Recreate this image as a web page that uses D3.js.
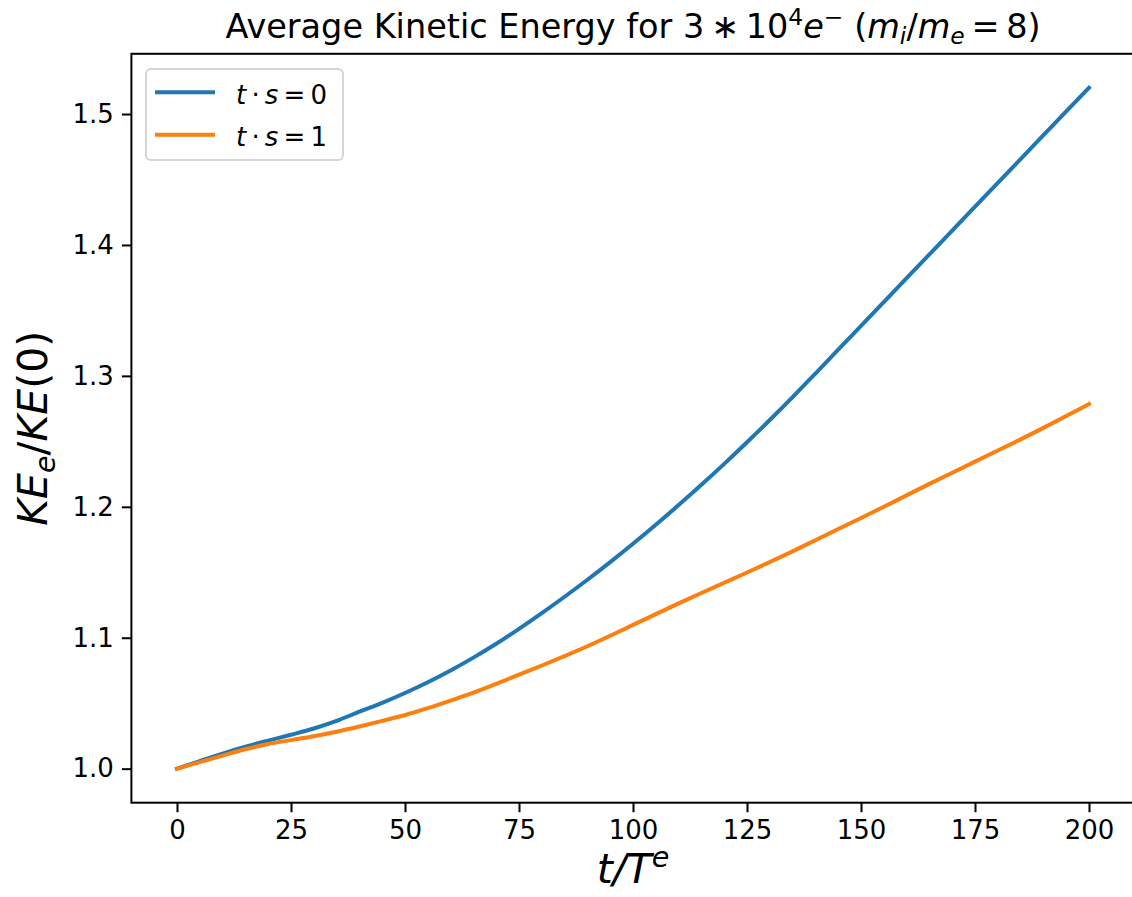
<!DOCTYPE html>
<html>
<head>
<meta charset="utf-8">
<script src="https://cdn.jsdelivr.net/npm/d3@7"></script>
<style>
  html, body { margin: 0; padding: 0; background: #fff; }
  svg { display: block; }
  text { font-family: "DejaVu Sans", sans-serif; fill: #000; }
</style>
</head>
<body>
<svg id="chart" width="1132" height="897"></svg>
<script>
// ---- data ----
const tValues = [0,5,10,15,20,25,30,35,40,45,50,55,60,65,70,75,80,85,90,95,100,
                 105,110,115,120,125,130,135,140,145,150,155,160,165,170,175,180,185,190,195,200];
const seriesTs0 = [1.000,1.0058,1.0115,1.0167,1.0214,1.0259,1.0307,1.0365,1.0435,1.0503,1.0578,1.066,1.075,1.0848,1.0954,1.1068,1.1188,1.1313,1.1443,1.1578,1.1718,
                   1.1863,1.2013,1.2168,1.2328,1.2493,1.2663,1.2838,1.3018,1.320,1.3382,1.3564,1.3746,1.3928,1.411,1.4292,1.4474,1.4656,1.4838,1.502,1.520];
const seriesTs1 = [1.000,1.005,1.010,1.0148,1.0188,1.0218,1.0248,1.0282,1.0322,1.0365,1.041,1.0462,1.052,1.058,1.0648,1.0718,1.0788,1.086,1.0935,1.1015,1.1098,
                   1.118,1.1262,1.1342,1.142,1.1498,1.1578,1.166,1.1745,1.183,1.1915,1.2,1.2088,1.2175,1.226,1.2345,1.243,1.2515,1.2603,1.2693,1.2785];
const seriesNames = ["t·s=0", "t·s=1"];
const seriesColors = ["#1f77b4", "#ff7f0e"];
const xTicks = [0,25,50,75,100,125,150,175,200];
const yTicks = [1.0,1.1,1.2,1.3,1.4,1.5];

// ---- layout ----
const svg = d3.select("#chart");
const pL = 131.4, pR = 1134.6, pT = 53.8, pB = 802.7;

const allY = seriesTs0.concat(seriesTs1);
const yMin = d3.min(allY), yMax = d3.max(allY);
const yPad = (yMax - yMin) * 0.05;
const xPad = (d3.max(tValues) - d3.min(tValues)) * 0.05;

const x = d3.scaleLinear().domain([d3.min(tValues) - xPad, d3.max(tValues) + xPad]).range([pL, pR]);
const y = d3.scaleLinear().domain([yMin - yPad, yMax + yPad]).range([pB, pT]);

const tickFont = 26;

// axes
const xAxis = d3.axisBottom(x).tickValues(xTicks).tickSize(9.5).tickPadding(8).tickFormat(d3.format("d"));
const yAxis = d3.axisLeft(y).tickValues(yTicks).tickSize(9.5).tickPadding(8).tickFormat(d3.format(".1f"));

const gx = svg.append("g").attr("transform", `translate(0,${pB})`).call(xAxis);
const gy = svg.append("g").attr("transform", `translate(${pL},0)`).call(yAxis);
[gx, gy].forEach(g => {
  g.select(".domain").remove();
  g.selectAll(".tick line").attr("stroke", "#000").attr("stroke-width", 2);
  g.selectAll(".tick text").attr("font-size", tickFont).attr("font-family", "DejaVu Sans").attr("fill", "#000");
});

// lines
const line = d3.line().x((d, i) => x(tValues[i])).y(d => y(d)).curve(d3.curveMonotoneX);
const plotG = svg.append("g");
[seriesTs0, seriesTs1].forEach((s, k) => {
  plotG.append("path").datum(s).attr("d", line)
    .attr("fill", "none").attr("stroke", seriesColors[k]).attr("stroke-width", 4)
    .attr("stroke-linejoin", "round").attr("stroke-linecap", "square");
});

// spines
svg.append("rect").attr("x", pL).attr("y", pT).attr("width", pR - pL).attr("height", pB - pT)
  .attr("fill", "none").attr("stroke", "#000").attr("stroke-width", 2);

// rich text helper
function rich(sel, segs, size) {
  let cur = 0;
  segs.forEach(s => {
    const off = s.shift || 0;
    const ts = sel.append("tspan").text(s.t)
      .attr("font-size", size * (s.scale || 1))
      .attr("font-style", s.it ? "italic" : "normal");
    if (off !== cur) { ts.attr("dy", -(off - cur)); cur = off; }
  });
  if (cur !== 0) sel.append("tspan").attr("dy", cur).text("");
}

// title
const titleSize = 33.5;
const title = svg.append("text").attr("x", (pL + pR) / 2).attr("y", 38).attr("text-anchor", "middle").attr("font-size", titleSize);
rich(title, [
  {t: "Average Kinetic Energy for 3\u2009\u2217\u200910"},
  {t: "4", shift: 13, scale: 0.7},
  {t: "e", it: true},
  {t: "\u2212", shift: 13, scale: 0.7},
  {t: " ("},
  {t: "m", it: true},
  {t: "i", it: true, shift: -6, scale: 0.7},
  {t: "/"},
  {t: "m", it: true},
  {t: "e", it: true, shift: -6, scale: 0.7},
  {t: "\u2009=\u20098)"}
], titleSize);

// axis labels
const labelSize = 41;
const xl = svg.append("text").attr("x", (pL + pR) / 2).attr("y", 883).attr("text-anchor", "middle").attr("font-size", labelSize);
rich(xl, [
  {t: "t/T", it: true},
  {t: "e", it: true, shift: 16, scale: 0.7}
], labelSize);

const yl = svg.append("text").attr("transform", `translate(47,${(pT + pB) / 2}) rotate(-90)`)
  .attr("text-anchor", "middle").attr("font-size", labelSize);
rich(yl, [
  {t: "KE", it: true},
  {t: "e", it: true, shift: -8, scale: 0.7},
  {t: "/"},
  {t: "KE", it: true},
  {t: "(0)"}
], labelSize);

// legend
const lg = svg.append("g");
lg.append("rect").attr("x", 146).attr("y", 69).attr("width", 197).attr("height", 91).attr("rx", 5)
  .attr("fill", "#fff").attr("fill-opacity", 0.8).attr("stroke", "#d6d6d6").attr("stroke-width", 2);
const legendRows = [92.3, 134.7];
seriesNames.forEach((n, k) => {
  const yy = legendRows[k];
  lg.append("line").attr("x1", 155).attr("x2", 215).attr("y1", yy).attr("y2", yy)
    .attr("stroke", seriesColors[k]).attr("stroke-width", 4);
  const tx = lg.append("text").attr("x", 236).attr("y", yy + 11.5).attr("font-size", tickFont);
  const parts = n.split("=");
  rich(tx, [
    {t: "t", it: true},
    {t: "\u2009\u00b7\u2009"},
    {t: "s", it: true},
    {t: "\u2009=\u2009" + parts[1]}
  ], tickFont);
});
</script>
</body>
</html>
